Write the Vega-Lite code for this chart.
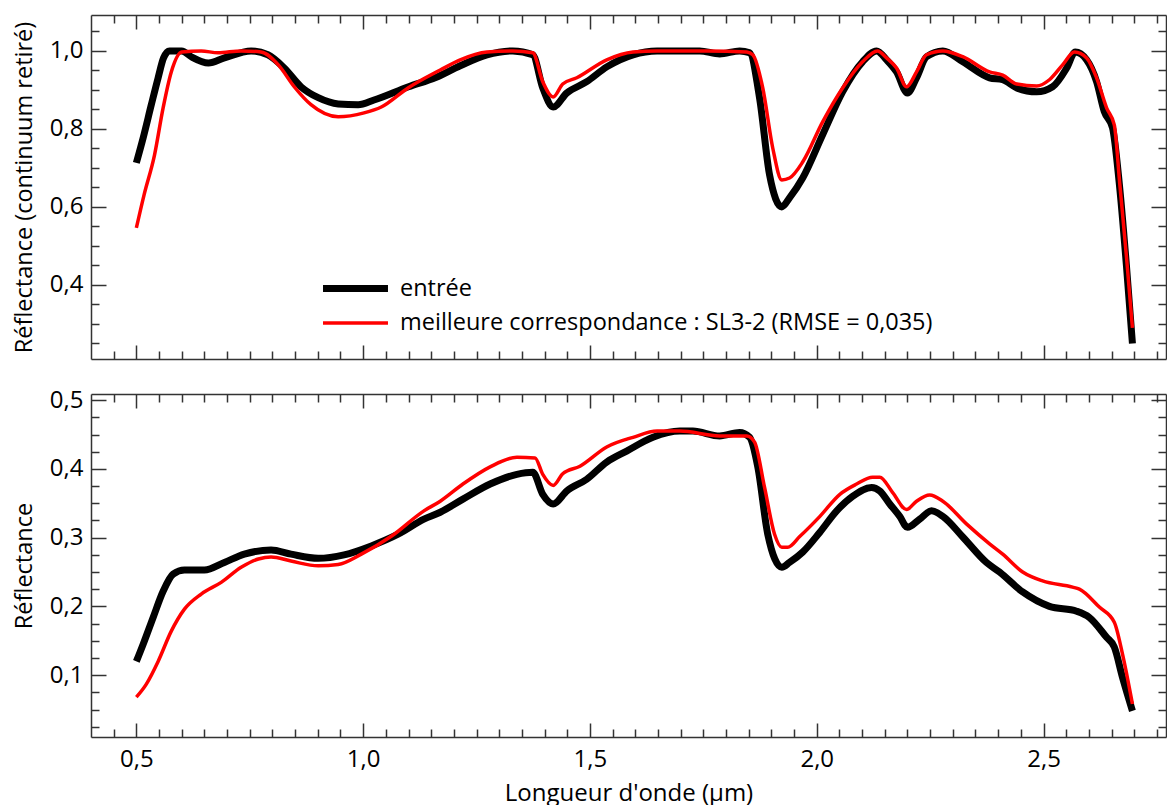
{
  "$schema": "https://vega.github.io/schema/vega-lite/v6.json",
  "padding": {"left": 12, "top": 14, "right": 0, "bottom": 0},
  "background": "white",
  "config": {
    "view": {"stroke": null},
    "font": "Open Sans",
    "axis": {
      "grid": false,
      "domainColor": "#333333",
      "domainWidth": 1.5,
      "tickColor": "#333333",
      "tickWidth": 1.5,
      "labelFont": "Open Sans",
      "labelFontSize": 24,
      "labelColor": "black",
      "titleFont": "Open Sans",
      "titleFontSize": 23.5,
      "titleFontWeight": "normal",
      "titleColor": "black"
    }
  },
  "datasets": {
    "top": [
      {"s":"e","x":0.5,"y":0.713},{"s":"e","x":0.515,"y":0.777},{"s":"e","x":0.533,"y":0.862},{"s":"e","x":0.548,"y":0.931},{"s":"e","x":0.56,"y":0.982},{"s":"e","x":0.573,"y":1.0},{"s":"e","x":0.6,"y":1.0},{"s":"e","x":0.621,"y":0.985},{"s":"e","x":0.659,"y":0.969},{"s":"e","x":0.694,"y":0.982},{"s":"e","x":0.753,"y":1.0},{"s":"e","x":0.79,"y":0.99},{"s":"e","x":0.826,"y":0.956},{"s":"e","x":0.863,"y":0.908},{"s":"e","x":0.901,"y":0.88},{"s":"e","x":0.945,"y":0.864},{"s":"e","x":0.989,"y":0.862},{"s":"e","x":1.024,"y":0.874},{"s":"e","x":1.1,"y":0.908},{"s":"e","x":1.16,"y":0.932},{"s":"e","x":1.214,"y":0.962},{"s":"e","x":1.273,"y":0.99},{"s":"e","x":1.33,"y":1.0},{"s":"e","x":1.374,"y":0.99},{"s":"e","x":1.396,"y":0.905},{"s":"e","x":1.419,"y":0.856},{"s":"e","x":1.449,"y":0.892},{"s":"e","x":1.493,"y":0.921},{"s":"e","x":1.537,"y":0.959},{"s":"e","x":1.595,"y":0.99},{"s":"e","x":1.648,"y":1.0},{"s":"e","x":1.742,"y":1.0},{"s":"e","x":1.786,"y":0.992},{"s":"e","x":1.83,"y":1.0},{"s":"e","x":1.852,"y":0.995},{"s":"e","x":1.874,"y":0.879},{"s":"e","x":1.896,"y":0.682},{"s":"e","x":1.923,"y":0.6},{"s":"e","x":1.94,"y":0.623},{"s":"e","x":1.969,"y":0.674},{"s":"e","x":2.013,"y":0.785},{"s":"e","x":2.057,"y":0.895},{"s":"e","x":2.101,"y":0.972},{"s":"e","x":2.132,"y":1.0},{"s":"e","x":2.154,"y":0.977},{"s":"e","x":2.176,"y":0.946},{"s":"e","x":2.2,"y":0.892},{"s":"e","x":2.22,"y":0.931},{"s":"e","x":2.242,"y":0.985},{"s":"e","x":2.278,"y":1.0},{"s":"e","x":2.322,"y":0.972},{"s":"e","x":2.381,"y":0.931},{"s":"e","x":2.41,"y":0.926},{"s":"e","x":2.441,"y":0.905},{"s":"e","x":2.485,"y":0.895},{"s":"e","x":2.52,"y":0.908},{"s":"e","x":2.551,"y":0.956},{"s":"e","x":2.57,"y":0.997},{"s":"e","x":2.595,"y":0.977},{"s":"e","x":2.617,"y":0.921},{"s":"e","x":2.634,"y":0.844},{"s":"e","x":2.652,"y":0.803},{"s":"e","x":2.667,"y":0.66},{"s":"e","x":2.683,"y":0.446},{"s":"e","x":2.696,"y":0.25},
      {"s":"m","x":0.5,"y":0.546},{"s":"m","x":0.517,"y":0.631},{"s":"m","x":0.54,"y":0.733},{"s":"m","x":0.559,"y":0.854},{"s":"m","x":0.577,"y":0.946},{"s":"m","x":0.6,"y":0.997},{"s":"m","x":0.643,"y":1.0},{"s":"m","x":0.68,"y":0.995},{"s":"m","x":0.731,"y":1.0},{"s":"m","x":0.775,"y":0.997},{"s":"m","x":0.813,"y":0.964},{"s":"m","x":0.848,"y":0.908},{"s":"m","x":0.885,"y":0.862},{"s":"m","x":0.945,"y":0.831},{"s":"m","x":1.002,"y":0.841},{"s":"m","x":1.04,"y":0.856},{"s":"m","x":1.099,"y":0.905},{"s":"m","x":1.17,"y":0.951},{"s":"m","x":1.214,"y":0.977},{"s":"m","x":1.273,"y":0.997},{"s":"m","x":1.33,"y":1.0},{"s":"m","x":1.374,"y":0.995},{"s":"m","x":1.396,"y":0.921},{"s":"m","x":1.419,"y":0.882},{"s":"m","x":1.44,"y":0.915},{"s":"m","x":1.471,"y":0.931},{"s":"m","x":1.537,"y":0.977},{"s":"m","x":1.595,"y":0.997},{"s":"m","x":1.648,"y":1.0},{"s":"m","x":1.758,"y":1.0},{"s":"m","x":1.846,"y":0.997},{"s":"m","x":1.859,"y":0.99},{"s":"m","x":1.881,"y":0.905},{"s":"m","x":1.903,"y":0.751},{"s":"m","x":1.923,"y":0.669},{"s":"m","x":1.94,"y":0.674},{"s":"m","x":1.969,"y":0.715},{"s":"m","x":2.013,"y":0.818},{"s":"m","x":2.057,"y":0.905},{"s":"m","x":2.101,"y":0.972},{"s":"m","x":2.134,"y":1.0},{"s":"m","x":2.154,"y":0.982},{"s":"m","x":2.176,"y":0.956},{"s":"m","x":2.198,"y":0.908},{"s":"m","x":2.22,"y":0.946},{"s":"m","x":2.242,"y":0.99},{"s":"m","x":2.278,"y":1.0},{"s":"m","x":2.322,"y":0.985},{"s":"m","x":2.381,"y":0.946},{"s":"m","x":2.41,"y":0.938},{"s":"m","x":2.441,"y":0.915},{"s":"m","x":2.485,"y":0.91},{"s":"m","x":2.513,"y":0.926},{"s":"m","x":2.542,"y":0.964},{"s":"m","x":2.568,"y":0.997},{"s":"m","x":2.595,"y":0.982},{"s":"m","x":2.617,"y":0.931},{"s":"m","x":2.639,"y":0.854},{"s":"m","x":2.656,"y":0.81},{"s":"m","x":2.668,"y":0.66},{"s":"m","x":2.683,"y":0.47},{"s":"m","x":2.696,"y":0.29}
    ],
    "bot": [
      {"s":"e","x":0.5,"y":0.12},{"s":"e","x":0.515,"y":0.145},{"s":"e","x":0.537,"y":0.184},{"s":"e","x":0.559,"y":0.222},{"s":"e","x":0.581,"y":0.247},{"s":"e","x":0.606,"y":0.253},{"s":"e","x":0.65,"y":0.253},{"s":"e","x":0.694,"y":0.264},{"s":"e","x":0.738,"y":0.276},{"s":"e","x":0.797,"y":0.282},{"s":"e","x":0.841,"y":0.276},{"s":"e","x":0.901,"y":0.27},{"s":"e","x":0.958,"y":0.275},{"s":"e","x":1.018,"y":0.288},{"s":"e","x":1.077,"y":0.305},{"s":"e","x":1.134,"y":0.327},{"s":"e","x":1.17,"y":0.337},{"s":"e","x":1.22,"y":0.356},{"s":"e","x":1.28,"y":0.378},{"s":"e","x":1.339,"y":0.392},{"s":"e","x":1.374,"y":0.395},{"s":"e","x":1.396,"y":0.363},{"s":"e","x":1.419,"y":0.349},{"s":"e","x":1.449,"y":0.368},{"s":"e","x":1.493,"y":0.385},{"s":"e","x":1.537,"y":0.41},{"s":"e","x":1.581,"y":0.426},{"s":"e","x":1.639,"y":0.446},{"s":"e","x":1.698,"y":0.455},{"s":"e","x":1.727,"y":0.455},{"s":"e","x":1.786,"y":0.448},{"s":"e","x":1.83,"y":0.453},{"s":"e","x":1.852,"y":0.446},{"s":"e","x":1.87,"y":0.403},{"s":"e","x":1.892,"y":0.305},{"s":"e","x":1.923,"y":0.257},{"s":"e","x":1.94,"y":0.264},{"s":"e","x":1.969,"y":0.279},{"s":"e","x":2.007,"y":0.308},{"s":"e","x":2.044,"y":0.339},{"s":"e","x":2.079,"y":0.36},{"s":"e","x":2.121,"y":0.373},{"s":"e","x":2.139,"y":0.368},{"s":"e","x":2.161,"y":0.349},{"s":"e","x":2.183,"y":0.331},{"s":"e","x":2.2,"y":0.315},{"s":"e","x":2.227,"y":0.327},{"s":"e","x":2.253,"y":0.339},{"s":"e","x":2.278,"y":0.331},{"s":"e","x":2.322,"y":0.301},{"s":"e","x":2.374,"y":0.264},{"s":"e","x":2.403,"y":0.25},{"s":"e","x":2.454,"y":0.221},{"s":"e","x":2.513,"y":0.2},{"s":"e","x":2.573,"y":0.193},{"s":"e","x":2.601,"y":0.184},{"s":"e","x":2.639,"y":0.155},{"s":"e","x":2.656,"y":0.141},{"s":"e","x":2.674,"y":0.097},{"s":"e","x":2.696,"y":0.048},
      {"s":"m","x":0.5,"y":0.068},{"s":"m","x":0.522,"y":0.087},{"s":"m","x":0.548,"y":0.12},{"s":"m","x":0.577,"y":0.164},{"s":"m","x":0.606,"y":0.196},{"s":"m","x":0.643,"y":0.218},{"s":"m","x":0.687,"y":0.235},{"s":"m","x":0.731,"y":0.257},{"s":"m","x":0.769,"y":0.269},{"s":"m","x":0.797,"y":0.272},{"s":"m","x":0.841,"y":0.266},{"s":"m","x":0.901,"y":0.259},{"s":"m","x":0.945,"y":0.261},{"s":"m","x":0.996,"y":0.276},{"s":"m","x":1.062,"y":0.302},{"s":"m","x":1.134,"y":0.339},{"s":"m","x":1.17,"y":0.353},{"s":"m","x":1.22,"y":0.378},{"s":"m","x":1.28,"y":0.403},{"s":"m","x":1.339,"y":0.417},{"s":"m","x":1.379,"y":0.416},{"s":"m","x":1.396,"y":0.392},{"s":"m","x":1.419,"y":0.376},{"s":"m","x":1.44,"y":0.393},{"s":"m","x":1.478,"y":0.404},{"s":"m","x":1.537,"y":0.432},{"s":"m","x":1.595,"y":0.446},{"s":"m","x":1.648,"y":0.455},{"s":"m","x":1.698,"y":0.455},{"s":"m","x":1.786,"y":0.448},{"s":"m","x":1.846,"y":0.448},{"s":"m","x":1.863,"y":0.439},{"s":"m","x":1.885,"y":0.373},{"s":"m","x":1.907,"y":0.305},{"s":"m","x":1.923,"y":0.286},{"s":"m","x":1.936,"y":0.286},{"s":"m","x":1.963,"y":0.302},{"s":"m","x":2.007,"y":0.331},{"s":"m","x":2.051,"y":0.363},{"s":"m","x":2.088,"y":0.378},{"s":"m","x":2.123,"y":0.388},{"s":"m","x":2.139,"y":0.388},{"s":"m","x":2.167,"y":0.366},{"s":"m","x":2.198,"y":0.341},{"s":"m","x":2.22,"y":0.353},{"s":"m","x":2.249,"y":0.362},{"s":"m","x":2.278,"y":0.353},{"s":"m","x":2.33,"y":0.32},{"s":"m","x":2.381,"y":0.291},{"s":"m","x":2.41,"y":0.276},{"s":"m","x":2.454,"y":0.25},{"s":"m","x":2.498,"y":0.237},{"s":"m","x":2.564,"y":0.228},{"s":"m","x":2.579,"y":0.225},{"s":"m","x":2.623,"y":0.199},{"s":"m","x":2.656,"y":0.177},{"s":"m","x":2.674,"y":0.131},{"s":"m","x":2.696,"y":0.058}
    ]
  },
  "vconcat": [
    {
      "width": 1075,
      "height": 344,
      "data": {"name": "top"},
      "layer": [
        {
          "mark": {"type": "line", "interpolate": "monotone", "strokeCap": "butt", "strokeJoin": "round"},
          "encoding": {
            "x": {"field": "x", "type": "quantitative", "scale": {"domain": [0.4, 2.77], "nice": false, "zero": false},
              "axis": {"orient": "bottom", "title": null, "labels": false,
                "values": [0.45,0.5,0.55,0.6,0.65,0.7,0.75,0.8,0.85,0.9,0.95,1,1.05,1.1,1.15,1.2,1.25,1.3,1.35,1.4,1.45,1.5,1.55,1.6,1.65,1.7,1.75,1.8,1.85,1.9,1.95,2,2.05,2.1,2.15,2.2,2.25,2.3,2.35,2.4,2.45,2.5,2.55,2.6,2.65,2.7,2.75],
                "tickSize": {"condition": {"test": "abs(datum.value*2 - round(datum.value*2)) < 0.001", "value": -14}, "value": -8}}},
            "y": {"field": "y", "type": "quantitative", "scale": {"domain": [0.21, 1.092], "nice": false, "zero": false},
              "axis": {"orient": "left", "title": "Réflectance (continuum retiré)", "titlePadding": 13, "labelPadding": 23,
                "values": [0.25,0.3,0.35,0.4,0.45,0.5,0.55,0.6,0.65,0.7,0.75,0.8,0.85,0.9,0.95,1,1.05],
                "labelExpr": "abs(datum.value*5 - round(datum.value*5)) < 0.001 ? replace(format(datum.value, '.1f'), '.', ',') : ''",
                "tickSize": {"condition": {"test": "abs(datum.value*5 - round(datum.value*5)) < 0.001", "value": -15}, "value": -8}}},
            "color": {"field": "s", "type": "nominal", "scale": {"domain": ["e", "m"], "range": ["#000000", "#ff0000"]},
              "legend": {"title": null, "orient": "none", "legendX": 250, "legendY": 259, "symbolType": "M-3,0H3", "symbolSize": 469, "labelFontSize": 23.5, "labelFont": "Open Sans", "labelColor": "black", "labelOffset": 30, "rowPadding": 7, "labelLimit": 0,
                "labelExpr": "datum.value == 'e' ? 'entrée' : 'meilleure correspondance : SL3-2 (RMSE = 0,035)'"}},
            "strokeWidth": {"field": "s", "type": "nominal", "scale": {"type": "ordinal", "domain": ["e", "m"], "range": [7, 3.5]},
              "legend": {"title": null, "orient": "none", "legendX": 250, "legendY": 259, "symbolType": "M-3,0H3", "symbolSize": 469, "labelFontSize": 23.5, "labelFont": "Open Sans", "labelColor": "black", "labelOffset": 30, "rowPadding": 7, "labelLimit": 0,
                "labelExpr": "datum.value == 'e' ? 'entrée' : 'meilleure correspondance : SL3-2 (RMSE = 0,035)'"}}
          }
        },
        {
          "mark": {"type": "line", "strokeOpacity": 0},
          "encoding": {
            "x": {"field": "x", "type": "quantitative",
              "axis": {"orient": "top", "title": null, "labels": false,
                "values": [0.45,0.5,0.55,0.6,0.65,0.7,0.75,0.8,0.85,0.9,0.95,1,1.05,1.1,1.15,1.2,1.25,1.3,1.35,1.4,1.45,1.5,1.55,1.6,1.65,1.7,1.75,1.8,1.85,1.9,1.95,2,2.05,2.1,2.15,2.2,2.25,2.3,2.35,2.4,2.45,2.5,2.55,2.6,2.65,2.7,2.75],
                "tickSize": {"condition": {"test": "abs(datum.value*2 - round(datum.value*2)) < 0.001", "value": -14}, "value": -8}}},
            "y": {"field": "y", "type": "quantitative",
              "axis": {"orient": "right", "title": null, "labels": false,
                "values": [0.25,0.3,0.35,0.4,0.45,0.5,0.55,0.6,0.65,0.7,0.75,0.8,0.85,0.9,0.95,1,1.05],
                "tickSize": {"condition": {"test": "abs(datum.value*5 - round(datum.value*5)) < 0.001", "value": -15}, "value": -8}}},
            "detail": {"field": "s", "type": "nominal"}
          }
        }
      ],
      "resolve": {"axis": {"x": "independent", "y": "independent"}}
    },
    {
      "width": 1075,
      "height": 343,
      "data": {"name": "bot"},
      "layer": [
        {
          "mark": {"type": "line", "interpolate": "monotone", "strokeCap": "butt", "strokeJoin": "round"},
          "encoding": {
            "x": {"field": "x", "type": "quantitative", "scale": {"domain": [0.4, 2.77], "nice": false, "zero": false},
              "axis": {"orient": "bottom", "title": "Longueur d'onde (µm)", "titleFontSize": 24, "labelPadding": 24, "titlePadding": 10,
                "values": [0.45,0.5,0.55,0.6,0.65,0.7,0.75,0.8,0.85,0.9,0.95,1,1.05,1.1,1.15,1.2,1.25,1.3,1.35,1.4,1.45,1.5,1.55,1.6,1.65,1.7,1.75,1.8,1.85,1.9,1.95,2,2.05,2.1,2.15,2.2,2.25,2.3,2.35,2.4,2.45,2.5,2.55,2.6,2.65,2.7,2.75],
                "labelExpr": "abs(datum.value*2 - round(datum.value*2)) < 0.001 ? replace(format(datum.value, '.1f'), '.', ',') : ''",
                "tickSize": {"condition": {"test": "abs(datum.value*2 - round(datum.value*2)) < 0.001", "value": -14}, "value": -8}}},
            "y": {"field": "y", "type": "quantitative", "scale": {"domain": [0.01, 0.509], "nice": false, "zero": false},
              "axis": {"orient": "left", "title": "Réflectance", "titlePadding": 13, "labelPadding": 23,
                "values": [0.025,0.05,0.075,0.1,0.125,0.15,0.175,0.2,0.225,0.25,0.275,0.3,0.325,0.35,0.375,0.4,0.425,0.45,0.475,0.5],
                "labelExpr": "abs(datum.value*10 - round(datum.value*10)) < 0.001 ? replace(format(datum.value, '.1f'), '.', ',') : ''",
                "tickSize": {"condition": {"test": "abs(datum.value*10 - round(datum.value*10)) < 0.001", "value": -15}, "value": -8}}},
            "color": {"field": "s", "type": "nominal", "scale": {"domain": ["e", "m"], "range": ["#000000", "#ff0000"]}, "legend": null},
            "strokeWidth": {"field": "s", "type": "nominal", "scale": {"type": "ordinal", "domain": ["e", "m"], "range": [7, 3.5]}, "legend": null}
          }
        },
        {
          "mark": {"type": "line", "strokeOpacity": 0},
          "encoding": {
            "x": {"field": "x", "type": "quantitative",
              "axis": {"orient": "top", "title": null, "labels": false,
                "values": [0.45,0.5,0.55,0.6,0.65,0.7,0.75,0.8,0.85,0.9,0.95,1,1.05,1.1,1.15,1.2,1.25,1.3,1.35,1.4,1.45,1.5,1.55,1.6,1.65,1.7,1.75,1.8,1.85,1.9,1.95,2,2.05,2.1,2.15,2.2,2.25,2.3,2.35,2.4,2.45,2.5,2.55,2.6,2.65,2.7,2.75],
                "tickSize": {"condition": {"test": "abs(datum.value*2 - round(datum.value*2)) < 0.001", "value": -14}, "value": -8}}},
            "y": {"field": "y", "type": "quantitative",
              "axis": {"orient": "right", "title": null, "labels": false,
                "values": [0.025,0.05,0.075,0.1,0.125,0.15,0.175,0.2,0.225,0.25,0.275,0.3,0.325,0.35,0.375,0.4,0.425,0.45,0.475,0.5],
                "tickSize": {"condition": {"test": "abs(datum.value*10 - round(datum.value*10)) < 0.001", "value": -15}, "value": -8}}},
            "detail": {"field": "s", "type": "nominal"}
          }
        }
      ],
      "resolve": {"axis": {"x": "independent", "y": "independent"}}
    }
  ],
  "spacing": 35,
  "bounds": "flush",
  "resolve": {"legend": {"color": "independent", "strokeWidth": "independent"}}
}
